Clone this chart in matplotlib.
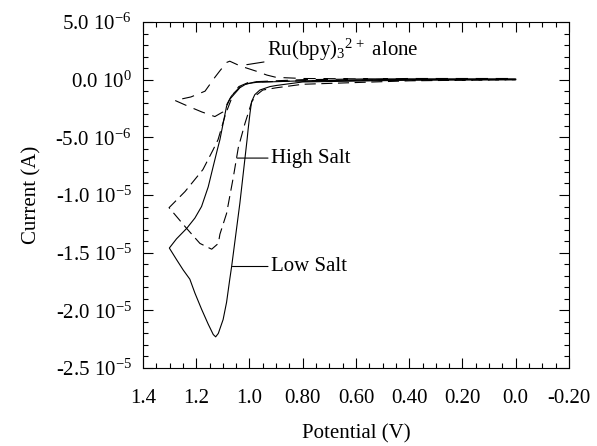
import matplotlib
matplotlib.use('Agg')
import matplotlib.pyplot as plt
from matplotlib.ticker import MultipleLocator

# ── Data (potential in V, current in uA) ────────────────────────────────────
V_LOW = [0.0, 0.40, 0.80, 0.898, 0.923, 0.961, 0.980, 0.992, 0.998, 1.005,
         1.009, 1.036, 1.067, 1.074, 1.086, 1.099, 1.117, 1.127, 1.136,
         1.155, 1.180, 1.205, 1.224, 1.249, 1.274, 1.301,
         1.274, 1.236, 1.205, 1.180, 1.155, 1.136, 1.121, 1.111, 1.099,
         1.086, 1.074, 1.055, 1.036, 1.011, 0.973, 0.80, 0.40, 0.0]
I_LOW = [0.0, -0.05, -0.2, -0.5, -0.6, -0.9, -1.3, -1.9, -2.9, -4.3,
         -5.2, -10.7, -16.2, -17.3, -19.3, -20.8, -22.0, -22.3, -22.1,
         -21.2, -19.9, -18.5, -17.3, -16.5, -15.6, -14.6,
         -13.8, -12.9, -12.0, -11.0, -9.3, -7.5, -6.1, -5.2, -3.8,
         -2.3, -1.7, -1.2, -0.7, -0.35, -0.23, -0.1, 0.05, 0.05]

V_HIGH = [0.0, 0.40, 0.80, 0.898, 0.95, 0.972, 0.991, 1.017, 1.042, 1.061,
          1.086, 1.111, 1.117, 1.142, 1.186, 1.236, 1.302, 1.242, 1.175,
          1.137, 1.118, 1.09, 1.06, 1.03, 0.98, 0.80, 0.40, 0.0]
I_HIGH = [0.0, -0.1, -0.4, -0.7, -0.9, -1.3, -1.9, -3.8, -5.9, -8.5,
          -11.6, -13.4, -14.2, -14.7, -14.2, -12.9, -11.1, -9.7, -7.8,
          -6.1, -5.2, -3.0, -1.2, -0.5, -0.2, -0.1, 0.0, 0.0]

V_RU = [0.0, 0.40, 0.80, 0.90, 0.935, 0.97, 1.01, 1.036, 1.074, 1.085, 1.11,
        1.13, 1.167, 1.22, 1.28, 1.231, 1.179, 1.13, 1.10, 1.07, 1.04, 1.0,
        0.80, 0.40, 0.0]
I_RU = [0.05, 0.05, 0.1, 0.2, 0.4, 0.7, 1.0, 1.2, 1.6, 1.5, 0.8,
        0.2, -1.0, -1.5, -1.8, -2.3, -2.8, -3.2, -2.8, -1.5, -0.6, -0.2,
        0.0, 0.1, 0.1]

X_TICKS = [1.4, 1.2, 1.0, 0.8, 0.6, 0.4, 0.2, 0.0, -0.2]
X_LABELS = ['1.4', '1.2', '1.0', '0.80', '0.60', '0.40', '0.20', '0.0', '-0.20']
Y_TICKS = [5e-6, 0.0, -5e-6, -1e-5, -1.5e-5, -2e-5, -2.5e-5]
Y_LABELS = [r'5.0 10$^{-6}$', r'0.0 10$^{0}$', r'-5.0 10$^{-6}$',
            r'-1.0 10$^{-5}$', r'-1.5 10$^{-5}$', r'-2.0 10$^{-5}$',
            r'-2.5 10$^{-5}$']

plt.rcParams['font.family'] = ['Liberation Serif', 'DejaVu Serif']
plt.rcParams['mathtext.fontset'] = 'custom'
plt.rcParams['mathtext.rm'] = 'Liberation Serif'
plt.rcParams['mathtext.it'] = 'Liberation Serif:italic'
plt.rcParams['mathtext.bf'] = 'Liberation Serif:bold'

fig = plt.figure(figsize=(5.97, 4.46), dpi=100)
ax = fig.add_axes([0.2395, 0.1749, 0.7135, 0.7758])

ua = 1e-6
lw = 0.8
ax.plot(V_LOW, [i * ua for i in I_LOW], color='black', lw=lw)
ax.plot(V_HIGH, [i * ua for i in I_HIGH], color='black', lw=lw,
        linestyle=(0, (10, 5)))
ax.plot(V_RU, [i * ua for i in I_RU], color='black', lw=lw,
        linestyle=(0, (11, 7)))

ax.set_xlim(1.4, -0.2)
ax.set_ylim(-2.5e-5, 5e-6)
ax.set_xticks(X_TICKS)
ax.set_xticklabels(X_LABELS)
ax.set_yticks(Y_TICKS)
ax.set_yticklabels(Y_LABELS)
ax.xaxis.set_minor_locator(MultipleLocator(0.05))
ax.yaxis.set_minor_locator(MultipleLocator(1e-6))
ax.tick_params(which='both', direction='in', top=True, right=True,
               width=0.8, labelsize=15)
ax.tick_params(which='major', length=7)
ax.tick_params(which='minor', length=3.6)
ax.tick_params(axis='x', pad=15)
ax.tick_params(axis='y', pad=8)
for s in ax.spines.values():
    s.set_linewidth(0.8)

ax.set_xlabel('Potential (V)', fontsize=15, labelpad=12)
ax.set_ylabel('Current (A)', fontsize=15, labelpad=10)

arrow = dict(arrowstyle='-', color='black', lw=lw, shrinkA=0, shrinkB=0)
ax.annotate(r'Ru(bpy)$_3$$^{2\,+}$ alone', xy=(1.01, 1.3e-6),
            xytext=(0.935, 2.6e-6), fontsize=15, va='center', ha='left',
            arrowprops=arrow)
ax.annotate('High Salt', xy=(1.047, -6.8e-6), xytext=(0.92, -6.8e-6),
            fontsize=15, va='center', ha='left', arrowprops=arrow)
ax.annotate('Low Salt', xy=(1.064, -16.2e-6), xytext=(0.92, -16.2e-6),
            fontsize=15, va='center', ha='left', arrowprops=arrow)

fig.savefig('out.png', dpi=100)
